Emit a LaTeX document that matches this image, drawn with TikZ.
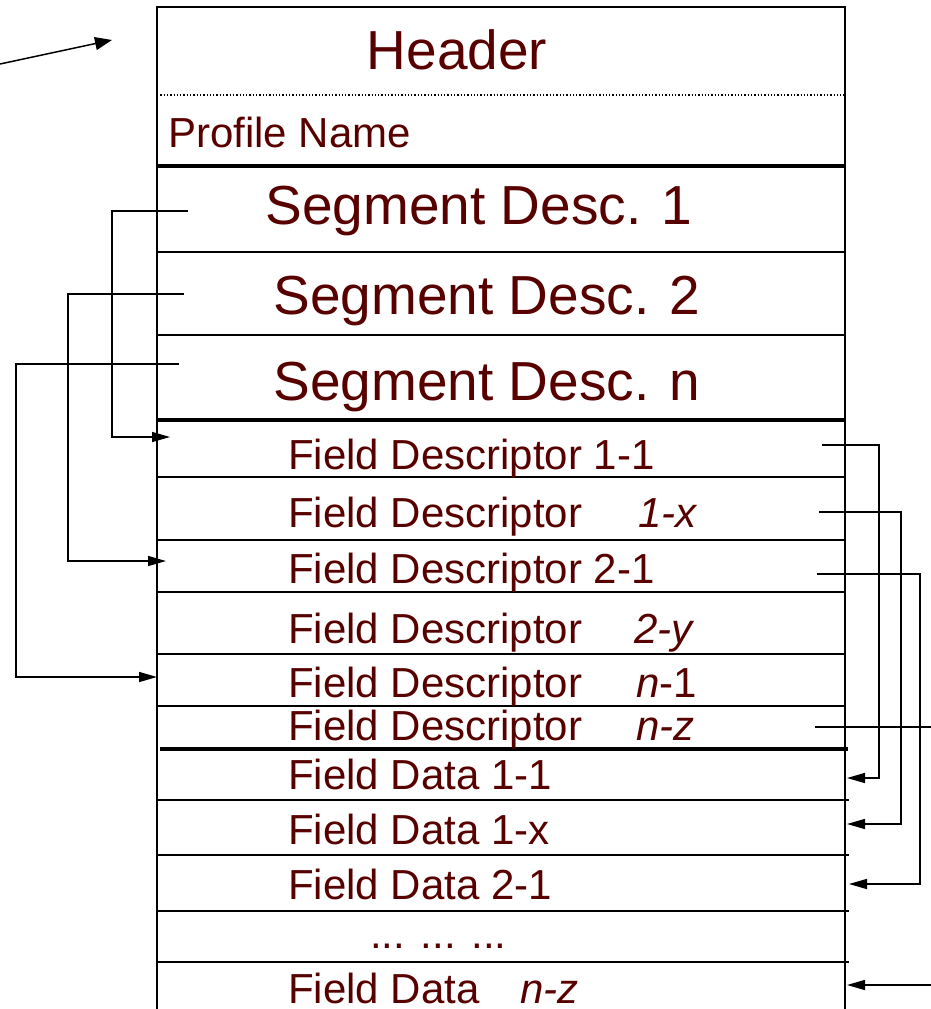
\documentclass[tikz,border=0pt]{standalone}
\usepackage{fontspec}
\setmainfont{Liberation Sans}
\usetikzlibrary{arrows.meta}
\definecolor{txt}{RGB}{88,0,0}
\begin{document}
\begin{tikzpicture}[x=1pt,y=-1pt,
  rowtext/.style={anchor=base west, inner sep=0pt, text=txt, font=\fontsize{42}{42}\selectfont},
  bigtext/.style={anchor=base, inner sep=0pt, text=txt, font=\fontsize{55}{55}\selectfont},
  rule/.style={line width=1.4pt},
  heavyrule/.style={line width=4pt},
  link/.style={line width=1.5pt, -{Triangle[length=18pt,width=10pt]}},
  plain/.style={line width=1.5pt}]
\useasboundingbox (0,0) rectangle (931,1009);

% outer frame (open at the bottom)
\draw[line width=2pt] (157,1009) -- (157,7) -- (845,7) -- (845,1009);

% separators
\draw[line width=1.3pt, dotted] (157,95) -- (845,95);
\draw[heavyrule] (157,166) -- (845,166);
\draw[rule] (157,252) -- (845,252);
\draw[rule] (157,335) -- (845,335);
\draw[heavyrule] (157,420) -- (845,420);
\draw[rule] (157,477) -- (845,477);
\draw[rule] (157,540) -- (845,540);
\draw[rule] (157,592) -- (845,592);
\draw[rule] (157,654) -- (845,654);
\draw[rule] (157,706) -- (845,706);
\draw[heavyrule] (160,749) -- (848,749);
\draw[rule] (157,800) -- (849,800);
\draw[rule] (157,855) -- (849,855);
\draw[rule] (157,911) -- (849,911);
\draw[rule] (157,962) -- (849,962);

% texts
\node[bigtext] (header) at (457,69) {Header};
\node[rowtext] (profile) at (168,147) {Profile Name};
\node[bigtext] (seg1) at (479,224) {Segment Desc. 1};
\node[bigtext] (seg2) at (487,314) {Segment Desc. 2};
\node[bigtext] (segn) at (487,400) {Segment Desc. n};
\node[rowtext] (fd11) at (288,469) {Field Descriptor 1-1};
\node[rowtext] (fd1x) at (288,527) {Field Descriptor\hspace{56pt}\textit{1-x}};
\node[rowtext] (fd21) at (288,583) {Field Descriptor 2-1};
\node[rowtext] (fd2y) at (288,643) {Field Descriptor\hspace{52pt}\textit{2-y}};
\node[rowtext] (fdn1) at (288,697) {Field Descriptor\hspace{54pt}\textit{n}-1};
\node[rowtext] (fdnz) at (288,740) {Field Descriptor\hspace{54pt}\textit{n-z}};
\node[rowtext] (fa11) at (288,789) {Field Data 1-1};
\node[rowtext] (fa1x) at (288,844) {Field Data 1-x};
\node[rowtext] (fa21) at (288,899) {Field Data 2-1};
\node[rowtext] (dots) at (370,948) {... ... ...};
\node[rowtext] (fanz) at (288,1003) {Field Data\hspace{41pt}\textit{n-z}};

% connector end points
\coordinate (src) at (0,64);
\coordinate (top) at (112,40);
\coordinate (s1) at (188,211);
\coordinate (s2) at (184,294);
\coordinate (s3) at (179,364);
\coordinate (t11) at (170,437);
\coordinate (t21) at (166,561);
\coordinate (tn1) at (157,677);
\coordinate (r11) at (822,445);
\coordinate (r1x) at (819,512);
\coordinate (r21) at (817,574);
\coordinate (rnz) at (815,727);
\coordinate (outnz) at (931,727);
\coordinate (d11) at (847,778);
\coordinate (d1x) at (847,824);
\coordinate (d21) at (849,884);
\coordinate (innz) at (931,985);
\coordinate (dnz) at (847,985);

% connectors
\draw[line width=1.5pt, -{Triangle[length=17pt,width=13pt]}] (src) -- (top);
\draw[link] (s1) -- ++(-76,0) |- (t11);
\draw[link] (s2) -- ++(-116,0) |- (t21);
\draw[link] (s3) -- ++(-163,0) |- (tn1);
\draw[link] (r11) -- ++(57,0) |- (d11);
\draw[link] (r1x) -- ++(82,0) |- (d1x);
\draw[link] (r21) -- ++(103,0) |- (d21);
\draw[plain] (rnz) -- (outnz);
\draw[link] (innz) -- (dnz);
\end{tikzpicture}
\end{document}
